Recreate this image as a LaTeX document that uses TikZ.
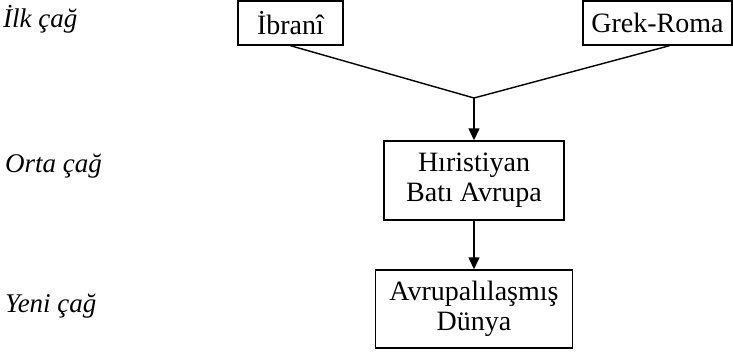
\documentclass[tikz,border=0pt]{standalone}
\usepackage{fontspec}
\setmainfont{Liberation Serif}
\usetikzlibrary{arrows.meta}
\begin{document}
\begin{tikzpicture}[x=1pt,y=-1pt,
  box/.style={draw,line width=1.4pt,inner sep=0pt,align=center,
    font=\fontsize{28}{30}\selectfont},
  era/.style={anchor=base west,inner sep=0pt,
    font=\fontsize{27}{30}\selectfont\itshape},
  link/.style={line width=1.4pt},
  flow/.style={line width=1.4pt,-{Triangle[length=12pt,width=11pt]}}]
  \useasboundingbox (0,0) rectangle (733,353);

  % era labels
  \node[era] (ilk)  at (3,28)  {İlk çağ};
  \node[era] (orta) at (5,172) {Orta çağ};
  \node[era] (yeni) at (5,312) {Yeni çağ};

  % sources
  \node[box,minimum width=105pt,minimum height=44pt] (ibrani) at (290.5,23) {İbranî};
  \node[box,minimum width=149pt,minimum height=44pt] (grek) at (657.5,23) {Grek-Roma};

  % successors
  \node[box,minimum width=180pt,minimum height=79pt] (bati) at (474,180.5)
    {Hıristiyan\\Batı Avrupa};
  \node[box,minimum width=197pt,minimum height=78pt] (dunya) at (474,309)
    {Avrupalılaşmış\\Dünya};

  % merging lines
  \coordinate (j) at (474,98);
  \draw[link] (ibrani.south) -- (j);
  \draw[link] ([xshift=12pt]grek.south) -- (j);
  \draw[flow] (j) -- (bati.north);
  \draw[flow] (bati.south) -- (dunya.north);
\end{tikzpicture}
\end{document}
